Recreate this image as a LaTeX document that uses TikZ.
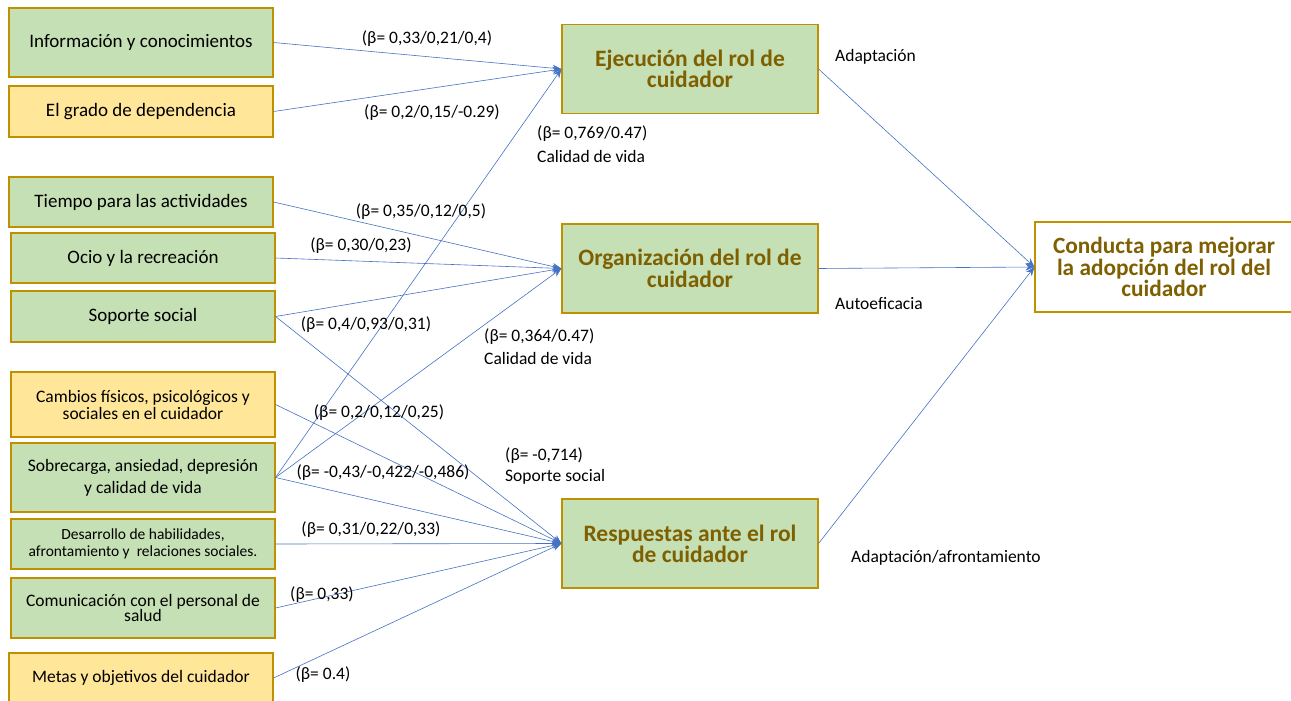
\documentclass[tikz,border=0pt]{standalone}
\usepackage{fontspec}
\setmainfont{Carlito}
\usetikzlibrary{arrows.meta}
\definecolor{boxgreen}{HTML}{C5E0B4}
\definecolor{boxyellow}{HTML}{FFE699}
\definecolor{boxedge}{HTML}{BF9000}
\definecolor{headtext}{HTML}{7F6000}
\definecolor{linkblue}{HTML}{4472C4}
\begin{document}
\begin{tikzpicture}[x=1pt,y=-1pt,
  factor/.style={draw=boxedge, line width=1.1pt, rectangle, inner sep=0pt,
    minimum width=264pt, align=center, font=\fontsize{19}{21}\selectfont},
  gfactor/.style={factor, fill=boxgreen},
  yfactor/.style={factor, fill=boxyellow},
  role/.style={draw=boxedge, line width=1.1pt, rectangle, inner sep=0pt,
    fill=boxgreen, minimum width=256pt, minimum height=89pt, align=center,
    text=headtext, font=\bfseries\fontsize{23.5}{19.5}\selectfont},
  link/.style={draw=linkblue, line width=0.6pt, -{Stealth[length=9pt,width=7pt]}},
  coef/.style={inner sep=0pt, yshift=-2pt, font=\fontsize{17.5}{19}\selectfont},
  note/.style={inner sep=0pt, yshift=-1pt, anchor=west, font=\fontsize{17.5}{19}\selectfont}
]
\useasboundingbox (0,0) rectangle (1291,701);

% input factors
\node[gfactor, minimum height=69pt] (info) at (141,42.5) {Información y conocimientos};
\node[yfactor, minimum height=51pt] (grado) at (141,111.5) {El grado de dependencia};
\node[gfactor, minimum height=50pt] (tiempo) at (141,202) {Tiempo para las actividades};
\node[gfactor, minimum height=50pt] (ocio) at (143,258) {Ocio y la recreación};
\node[gfactor, minimum height=51pt] (soporte) at (143,316.5) {Soporte social};
\node[yfactor, minimum height=65pt, font=\fontsize{17.5}{17}\selectfont] (cambios) at (143,404.5)
  {Cambios físicos, psicológicos y\\ sociales en el cuidador};
\node[gfactor, minimum height=69pt, font=\fontsize{17.5}{22}\selectfont] (sobrecarga) at (143,477.5)
  {Sobrecarga, ansiedad, depresión\\ y calidad de vida};
\node[gfactor, minimum height=50pt, font=\fontsize{15.5}{17}\selectfont] (desarrollo) at (143,544)
  {Desarrollo de habilidades,\\ afrontamiento y\ \ relaciones sociales.};
\node[gfactor, minimum height=60pt, font=\fontsize{17.5}{15}\selectfont] (comunicacion) at (143,608)
  {Comunicación con el personal de\\ salud};
\node[yfactor, minimum height=50pt, font=\fontsize{17.5}{19}\selectfont] (metas) at (141,678) {Metas y objetivos del cuidador};

% caregiver role dimensions
\node[role] (ejec) at (690,69) {Ejecución del rol de\\ cuidador};
\node[role] (org) at (690,268.5) {Organización del rol de\\ cuidador};
\node[role] (resp) at (690,543.5) {Respuestas ante el rol\\ de cuidador};
\node[role, fill=white, minimum width=258pt, minimum height=90pt,
  font=\bfseries\fontsize{23.3}{20}\selectfont] (conducta) at (1164,267)
  {Conducta para mejorar\\ la adopción del rol del\\ cuidador};

% paths into the role dimensions
\draw[link] (info.east) -- (ejec.west);
\draw[link] (grado.east) -- (ejec.west);
\draw[link] (sobrecarga.east) -- (ejec.west);
\draw[link] (tiempo.east) -- (org.west);
\draw[link] (ocio.east) -- (org.west);
\draw[link] (soporte.east) -- (org.west);
\draw[link] (sobrecarga.east) -- (org.west);
\draw[link] (soporte.east) -- (resp.west);
\draw[link] (cambios.east) -- (resp.west);
\draw[link] (sobrecarga.east) -- (resp.west);
\draw[link] (desarrollo.east) -- (resp.west);
\draw[link] (comunicacion.east) -- (resp.west);
\draw[link] (metas.east) -- (resp.west);

% paths into the target behaviour
\draw[link] (ejec.east) -- (conducta.west);
\draw[link] (org.east) -- (conducta.west);
\draw[link] (resp.east) -- (conducta.west);

% coefficients
\node[coef] (c1) at (427,37) {(β= 0,33/0,21/0,4)};
\node[coef] (c2) at (432,111) {(β= 0,2/0,15/-0.29)};
\node[note] (c3) at (537,133) {(β= 0,769/0.47)};
\node[note] (c3b) at (537,155) {Calidad de vida};
\node[coef] (c4) at (421,210) {(β= 0,35/0,12/0,5)};
\node[coef] (c5) at (361,244) {(β= 0,30/0,23)};
\node[coef] (c6) at (366,323) {(β= 0,4/0,93/0,31)};
\node[note] (c7) at (484,336) {(β= 0,364/0.47)};
\node[note] (c7b) at (484,357) {Calidad de vida};
\node[coef] (c8) at (379,411) {(β= 0,2/0,12/0,25)};
\node[note] (c9) at (505,455) {(β= -0,714)};
\node[note] (c9b) at (505,476) {Soporte social};
\node[coef] (c10) at (383,471) {(β= -0,43/-0,422/-0,486)};
\node[coef] (c11) at (371,528) {(β= 0,31/0,22/0,33)};
\node[coef] (c12) at (322,593) {(β= 0,33)};
\node[coef] (c13) at (323,673) {(β= 0.4)};

% mediating processes
\node[note] (m1) at (835,56) {Adaptación};
\node[note] (m2) at (835,303) {Autoeficacia};
\node[note] (m3) at (851,557) {Adaptación/afrontamiento};
\end{tikzpicture}
\end{document}
